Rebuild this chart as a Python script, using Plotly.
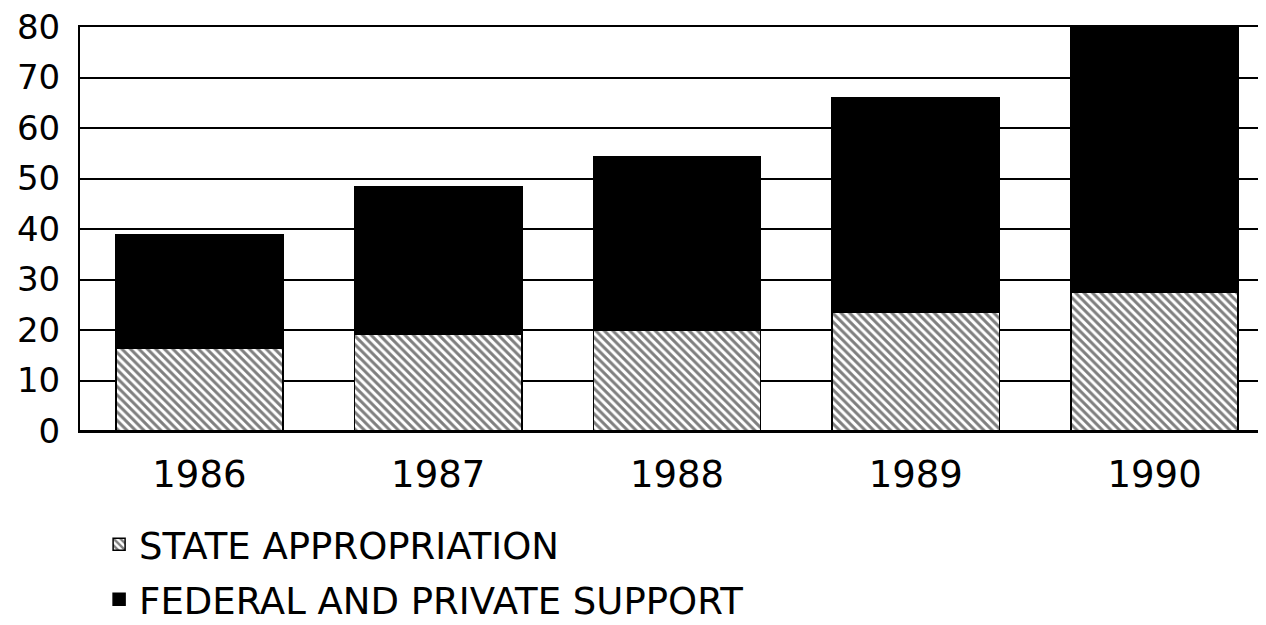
import plotly.graph_objects as go

years = ["1986", "1987", "1988", "1989", "1990"]
state = [16.3, 19.2, 19.9, 23.6, 27.4]
federal_private = [22.6, 29.2, 34.5, 42.4, 52.6]

FONT = "DejaVu Sans, Arial, sans-serif"

fig = go.Figure()
fig.add_trace(go.Bar(
    name="STATE APPROPRIATION", x=years, y=state, legendgroup="state",
    marker=dict(color="white", line=dict(color="black", width=1.5),
                pattern=dict(shape="\\", fgcolor="black", bgcolor="white",
                             size=6, solidity=0.5)),
))
fig.add_trace(go.Bar(
    name="FEDERAL AND PRIVATE SUPPORT", x=years, y=federal_private, legendgroup="fed",
    marker=dict(color="black", line=dict(color="black", width=1.5)),
))

# page body has an 8px margin, so offsets are shifted accordingly
fig.update_layout(
    barmode="stack",
    bargap=0.3,
    width=1266, height=625,
    margin=dict(l=72, r=0, t=19, b=202),
    plot_bgcolor="white", paper_bgcolor="white",
    font=dict(family=FONT, color="black"),
    showlegend=True,
    # container-relative so the legend doesn't push the bottom margin
    legend=dict(orientation="v", x=0.016, y=0.191, yref="container",
                xanchor="left", yanchor="top",
                font=dict(size=37, family=FONT), tracegroupgap=4,
                traceorder="grouped", itemwidth=30),
)
# top/bottom frame lines come from the mirrored x axis line
fig.update_xaxes(showline=True, mirror=True, linecolor="black", linewidth=2,
                 ticks="", tickfont=dict(size=37, family=FONT),
                 showgrid=False, automargin=False, ticklabelstandoff=10)
fig.update_yaxes(range=[0, 80], dtick=10, showline=True, linecolor="black", linewidth=2,
                 showgrid=True, gridcolor="black", gridwidth=2,
                 zeroline=True, zerolinecolor="black", zerolinewidth=2,
                 tickfont=dict(size=34, family=FONT), ticks="",
                 automargin=False, ticklabelstandoff=11, ticklabeloverflow="allow")

fig.write_html("out.html")
